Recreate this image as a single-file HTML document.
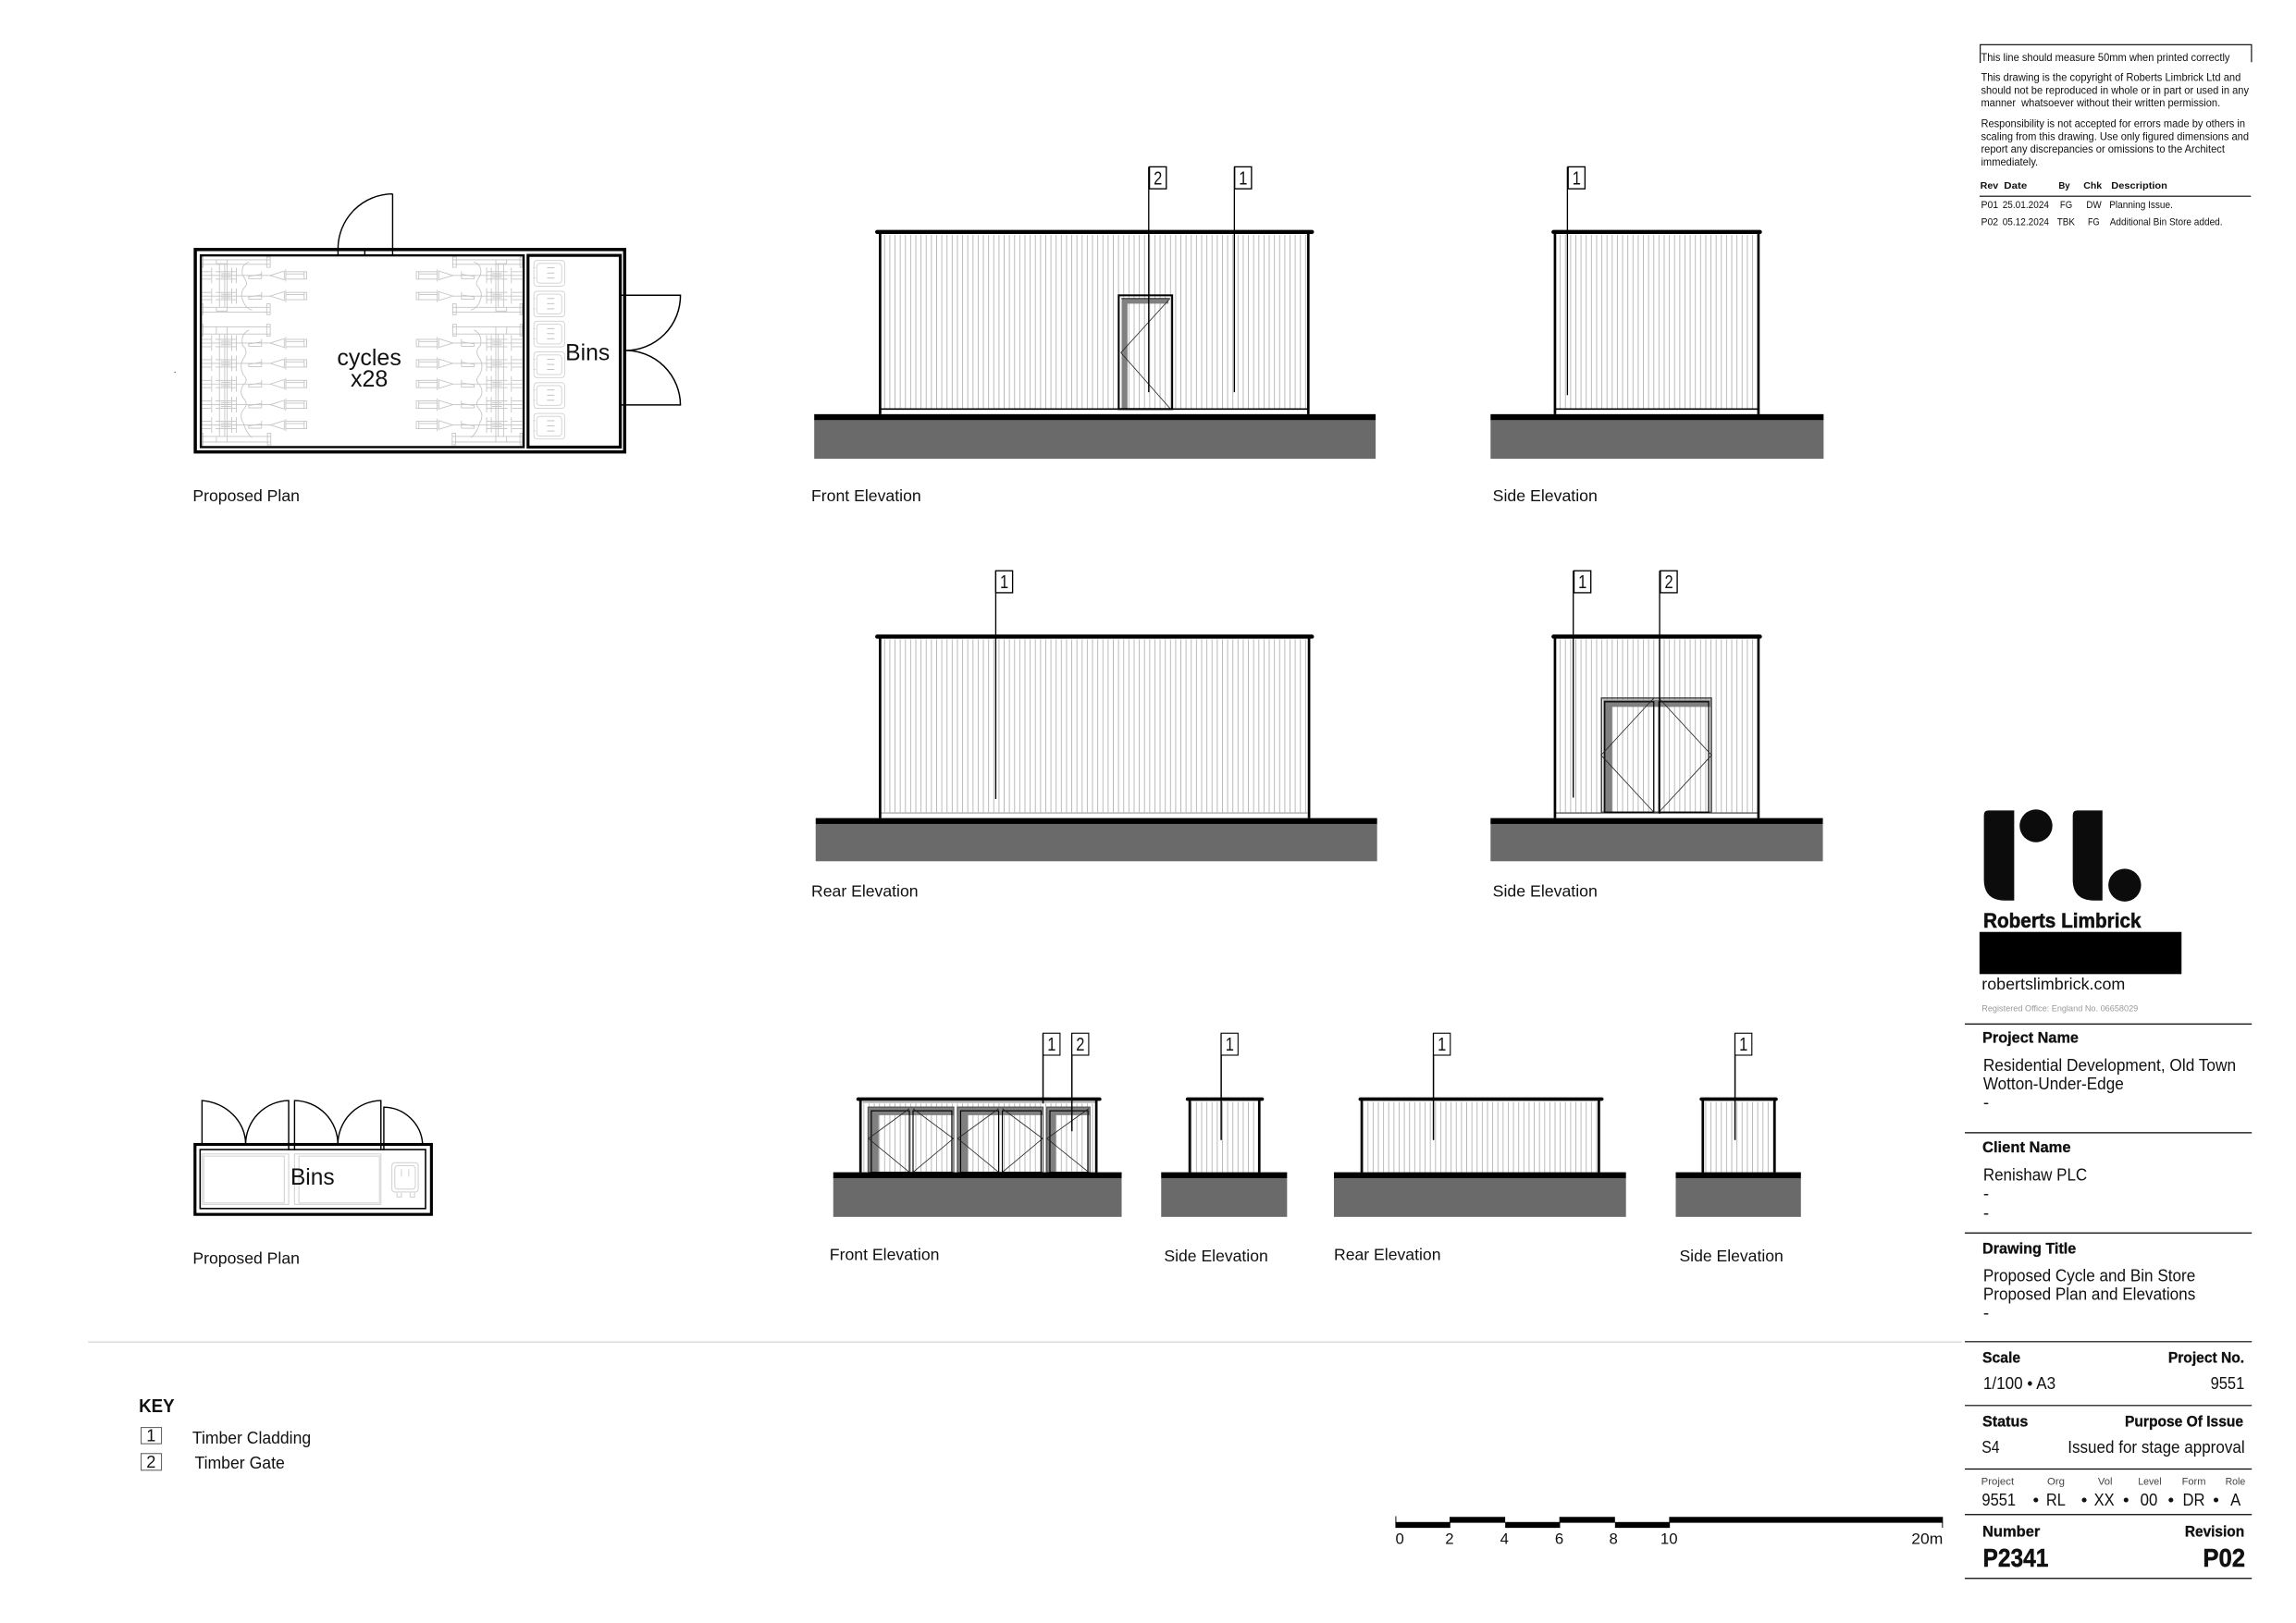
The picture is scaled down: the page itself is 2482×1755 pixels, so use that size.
<!DOCTYPE html>
<html><head><meta charset="utf-8"><title>Proposed Cycle and Bin Store</title>
<style>
html,body{margin:0;padding:0;background:#fff}
svg{display:block}
text{font-family:"Liberation Sans",Arial,sans-serif;fill:#111}
.l{font-size:11.1px}
.b{font-weight:bold}
.s{font-size:7.5px}
.t{font-size:11.9px}
.h{font-size:10.3px;font-weight:bold;stroke:#111;stroke-width:.2px}
.m{font-size:6.8px;fill:#444}
.d{font-size:12.6px;text-anchor:middle}
</style></head><body>
<svg xmlns="http://www.w3.org/2000/svg" width="2482" height="1755" viewBox="0 0 1568 1109">
<defs>
<pattern id="h" patternUnits="userSpaceOnUse" width="3.55" height="10"><line x1=".6" y1="0" x2=".6" y2="10" stroke="#b8b8b8" stroke-width=".62"/></pattern>
<g id="bike" fill="none" stroke="#c4c4c4" stroke-width=".55">
<path d="M137 0H184.4M137 -2.5H144M137 2.5H144M147 -2.5H161M147 2.5H161"/>
<path d="M144.4 -5.3V5.3M158.1 -5.3V5.3M161.3 -5.3V5.3"/>
<path d="M169.7 2.5V0.6L178.5 -0.8M178.5 -2.8V2.2M169.7 2.2H178.5"/>
<path d="M184.4 0L194 -3V3ZM195 -4.2V4.2M195 -2.5H209.3V2.5H195M207.6 -2.5V2.5M195 -1H207.6"/>
<path d="M150.8 -1.2H157.5M150.8 0H157.5M150.8 1.2H157.5"/>
</g>
<g id="rack" fill="none" stroke="#c4c4c4" stroke-width=".55">
<path d="M137 177.5H184.4M137 180.6H184.4M138.5 175.6V182.7H137V175.6ZM182 175.6V182.7H184.4V175.6ZM147.6 177.5V180.2H155V177.5"/>
<path d="M149.7 180.2V209.7M153.3 180.2V209.7M155 180.2V209.7"/>
<path d="M137 210H184.4M137 213.3H184.4M138.5 207.6V215H137V207.6ZM182 207.6V215H184.4V207.6ZM147.6 209.7V212.5H155V209.7"/>
<path d="M170 179Q164 181 165.5 188Q169 193 168 195Q163 200 166 206Q168 211 172 211.8"/>
<path d="M137 223.4H184.4M137 228.2H184.4M138.5 221.6V229.6H137V221.6ZM182 221.6V229.6H184.4V221.6ZM147.6 223.4V228.2H155V223.4"/>
<path d="M149.7 228.2V298.2M153.3 228.2V298.2M155 228.2V298.2"/>
<path d="M137 298.2H184.4M137 302H184.4M138.5 296V304H137V296ZM182.5 296V304H184.8V296ZM147.6 298.2V302H155V298.2"/>
<path d="M170 225.5Q164 228 165.5 236Q170 240 166 245Q163 250 166 256Q170 260 166 263Q163 268 166 272Q170 276 166 280Q163 284 166 289Q168 296 172 299"/>
<use href="#bike" y="188.2"/><use href="#bike" y="202.3"/>
<use href="#bike" y="234.4"/><use href="#bike" y="248.3"/><use href="#bike" y="262.4"/><use href="#bike" y="276.5"/><use href="#bike" y="290.4"/>
</g>
<g id="bin" fill="none" stroke="#cfcfcf" stroke-width=".55">
<rect x="0" y="0" width="21" height="17.5" rx="2"/><rect x="2" y="2" width="17" height="13.5" rx="2"/>
<path d="M9 5H14M9 8.5H14M9 12H14" stroke="#bbb"/><path d="M-.5 5H1M-.5 12H1"/>
</g>
</defs>
<rect width="1568" height="1109" fill="#fff"/>

<!-- Top plan -->
<rect x="119" y="254" width=".7" height=".7" fill="#333"/>
<path d="M268 132.5V170M268 132.5A37.5 37.5 0 0 0 230.7 170" fill="none" stroke="#000" stroke-width=".9"/>
<use href="#rack"/>
<use href="#rack" transform="translate(493.5,0) scale(-1,1)"/>
<use href="#bin" x="364.5" y="178"/><use href="#bin" x="364.5" y="199"/><use href="#bin" x="364.5" y="219.5"/><use href="#bin" x="364.5" y="240.5"/><use href="#bin" x="364.5" y="261.5"/><use href="#bin" x="364.5" y="282.5"/>
<rect x="133.2" y="170.5" width="293.3" height="138.3" fill="none" stroke="#000" stroke-width="2.2"/>
<rect x="137" y="174.5" width="220.5" height="131" fill="none" stroke="#000" stroke-width="1.5"/>
<rect x="360.5" y="174.5" width="63" height="131" fill="none" stroke="#000" stroke-width="2"/>
<path d="M230.7 170V174M249 170V174M268 170V174" stroke="#000" stroke-width=".9"/>
<path d="M424 201.7H464.6A37.5 37.5 0 0 1 427 239.5A37.5 37.5 0 0 1 464.6 276.7H424" fill="none" stroke="#000" stroke-width=".95"/>
<text x="252" y="249.5" font-size="15.8" text-anchor="middle">cycles</text>
<text x="252" y="264" font-size="15.8" text-anchor="middle">x28</text>
<text x="386" y="246" font-size="15.6">Bins</text>
<text class="l" x="131.5" y="342.5" textLength="73" lengthAdjust="spacingAndGlyphs">Proposed Plan</text>

<!-- Front Elevation -->
<rect x="601" y="160.5" width="293" height="118.5" fill="url(#h)"/>
<path d="M601 279.5H893" stroke="#000" stroke-width="1.1"/>
<path d="M601 159V283M893.5 159V283" stroke="#000" stroke-width="1.7"/>
<path d="M599 158.5H896" stroke="#000" stroke-width="2.8" stroke-linecap="round"/>
<rect x="556" y="283" width="383.5" height="4.2" fill="#000"/>
<rect x="556" y="287" width="383.5" height="26.5" fill="#6a6a6a"/>
<path d="M766 204H798V207.5H770V279H766Z" fill="#808080"/>
<rect x="764" y="201.8" width="36.5" height="77.7" fill="none" stroke="#000" stroke-width="1.3"/>
<path d="M765.8 204H799" stroke="#000" stroke-width=".6"/>
<path d="M799 204L765.5 241L799 279" fill="none" stroke="#222" stroke-width=".5"/>
<path d="M784.5 114V268M843 114V268" stroke="#000" stroke-width=".85"/>
<rect x="785" y="114" width="11.5" height="15" fill="#fff" stroke="#000" stroke-width=".85"/>
<rect x="843.2" y="114" width="11.5" height="15" fill="#fff" stroke="#000" stroke-width=".85"/>
<text class="d" x="790.8" y="126" textLength="5.8" lengthAdjust="spacingAndGlyphs">2</text>
<text class="d" x="849" y="126" textLength="5.8" lengthAdjust="spacingAndGlyphs">1</text>
<text class="l" x="554" y="342.5" textLength="75" lengthAdjust="spacingAndGlyphs">Front Elevation</text>

<!-- Side Elevation 1 -->
<rect x="1062" y="160.5" width="139" height="118.5" fill="url(#h)"/>
<path d="M1062 279.5H1201" stroke="#000" stroke-width="1"/>
<path d="M1062 159V283M1201 159V283" stroke="#000" stroke-width="1.7"/>
<path d="M1061 158.5H1202" stroke="#000" stroke-width="2.8" stroke-linecap="round"/>
<rect x="1018" y="283" width="227.5" height="4.2" fill="#000"/>
<rect x="1018" y="287" width="227.5" height="26.5" fill="#6a6a6a"/>
<path d="M1070.5 114V270" stroke="#000" stroke-width=".85"/>
<rect x="1071" y="114" width="11.5" height="15" fill="#fff" stroke="#000" stroke-width=".85"/>
<text class="d" x="1076.8" y="126" textLength="5.8" lengthAdjust="spacingAndGlyphs">1</text>
<text class="l" x="1019.5" y="342.5" textLength="71.5" lengthAdjust="spacingAndGlyphs">Side Elevation</text>

<!-- Rear Elevation -->
<rect x="601" y="437" width="293" height="118" fill="url(#h)"/>
<path d="M601 555.5H893" stroke="#999" stroke-width=".7"/>
<path d="M601 436V559M894 436V559" stroke="#000" stroke-width="1.7"/>
<path d="M599 435H896" stroke="#000" stroke-width="2.8" stroke-linecap="round"/>
<rect x="557" y="559" width="383.5" height="4.2" fill="#000"/>
<rect x="557" y="563" width="383.5" height="25.5" fill="#6a6a6a"/>
<path d="M680 390V546" stroke="#000" stroke-width=".85"/>
<rect x="680" y="390" width="11.5" height="15" fill="#fff" stroke="#000" stroke-width=".85"/>
<text class="d" x="685.8" y="402" textLength="5.8" lengthAdjust="spacingAndGlyphs">1</text>
<text class="l" x="554" y="612.5" textLength="73" lengthAdjust="spacingAndGlyphs">Rear Elevation</text>

<!-- Side Elevation 2 -->
<rect x="1062" y="437" width="139" height="118" fill="url(#h)"/>
<path d="M1062 555.5H1201" stroke="#333" stroke-width=".7"/>
<path d="M1095 478H1168V483H1101V555H1095Z" fill="#808080"/>
<rect x="1093.8" y="477" width="75" height="78" fill="none" stroke="#444" stroke-width="1"/>
<rect x="1096" y="479.5" width="33.5" height="75.5" fill="none" stroke="#000" stroke-width=".8"/>
<rect x="1133" y="479.5" width="34" height="75.5" fill="none" stroke="#000" stroke-width=".8"/>
<path d="M1129.5 477L1093.5 516L1129.5 555M1133 477L1169 516L1133 555" fill="none" stroke="#222" stroke-width=".5"/>
<path d="M1062 436V559M1201 436V559" stroke="#000" stroke-width="1.7"/>
<path d="M1061 435H1202" stroke="#000" stroke-width="2.8" stroke-linecap="round"/>
<rect x="1018" y="559" width="227" height="4.2" fill="#000"/>
<rect x="1018" y="563" width="227" height="25.5" fill="#6a6a6a"/>
<path d="M1074.5 390V545M1133.5 390V556" stroke="#000" stroke-width=".85"/>
<rect x="1075" y="390" width="11.5" height="15" fill="#fff" stroke="#000" stroke-width=".85"/>
<rect x="1134" y="390" width="11.5" height="15" fill="#fff" stroke="#000" stroke-width=".85"/>
<text class="d" x="1080.8" y="402" textLength="5.8" lengthAdjust="spacingAndGlyphs">1</text>
<text class="d" x="1139.8" y="402" textLength="5.8" lengthAdjust="spacingAndGlyphs">2</text>
<text class="l" x="1019.5" y="612.5" textLength="71.5" lengthAdjust="spacingAndGlyphs">Side Elevation</text>

<!-- Small plan -->
<path d="M137.8 782V752A33 30 0 0 1 167.6 782A30 30 0 0 1 197 752V782M201 782V752A30 30 0 0 1 230.6 782A30 30 0 0 1 260 752V782M262 782V756.5A27 27 0 0 1 288.5 782" fill="none" stroke="#000" stroke-width=".9"/>
<g fill="none" stroke="#d4d4d4" stroke-width=".7">
<rect x="138" y="788.5" width="59" height="34.5"/><rect x="139" y="790" width="55" height="32"/>
<rect x="201" y="788.5" width="59" height="34.5"/><rect x="204" y="790" width="55" height="32"/>
<rect x="267.5" y="794.5" width="18" height="20" rx="2"/><rect x="269.5" y="796.5" width="14" height="16" rx="2"/>
<path d="M274 799V804M279 799V804M271 815V818H274V815M280 815V818H283V815"/>
</g>
<rect x="133" y="782" width="161.5" height="47.8" fill="none" stroke="#000" stroke-width="2"/>
<rect x="136.5" y="785.5" width="154" height="40.3" fill="none" stroke="#000" stroke-width="1"/>
<path d="M197 782V786M201 782V786M260 782V786M262 782V786" stroke="#000" stroke-width=".9"/>
<text x="198.2" y="809.5" font-size="15.5">Bins</text>
<text class="l" x="131.5" y="863.5" textLength="73" lengthAdjust="spacingAndGlyphs">Proposed Plan</text>

<!-- Bottom Front Elevation -->
<rect x="588" y="754" width="161" height="47" fill="url(#h)"/>
<path d="M589 753.2H748" stroke="#333" stroke-width=".45"/>
<g fill="#808080">
<path d="M593 756.5H651V762H600V801H593Z"/>
<path d="M654 756.5H712V762H661V801H654Z"/>
<path d="M715 756.5H744V762H721V801H715Z"/>
</g>
<g fill="none" stroke="#555" stroke-width=".8">
<rect x="592.8" y="756.5" width="58.5" height="44.5"/>
<rect x="653.8" y="756.5" width="58.5" height="44.5"/>
<rect x="714.8" y="756.5" width="29.5" height="44.5"/>
</g>
<g fill="none" stroke="#000" stroke-width=".75">
<rect x="595" y="759" width="26" height="42"/><rect x="623.5" y="759" width="26.5" height="42"/>
<rect x="656" y="759" width="26" height="42"/><rect x="684.5" y="759" width="26.5" height="42"/>
<rect x="717" y="759" width="26" height="42"/>
</g>
<path d="M621 757.5L593 778L621 801M623.5 757.5L651 778L623.5 801M682 757.5L654 778L682 801M684.5 757.5L712 778L684.5 801M743.5 757.5L715 778L743.5 801" fill="none" stroke="#222" stroke-width=".5"/>
<path d="M587.6 752V801M748.7 752V801" stroke="#000" stroke-width="1.7"/>
<path d="M586 751H751" stroke="#000" stroke-width="2.4" stroke-linecap="round"/>
<rect x="569" y="801" width="197" height="4.2" fill="#000"/>
<rect x="569" y="805" width="197" height="26.5" fill="#6a6a6a"/>
<path d="M712.3 706V754M732 706V773" stroke="#000" stroke-width=".95"/>
<rect x="712.4" y="706" width="11.5" height="15" fill="#fff" stroke="#000" stroke-width=".7"/>
<rect x="732" y="706" width="11.5" height="15" fill="#fff" stroke="#000" stroke-width=".7"/>
<text class="d" x="718.2" y="718" textLength="5.8" lengthAdjust="spacingAndGlyphs">1</text>
<text class="d" x="737.8" y="718" textLength="5.8" lengthAdjust="spacingAndGlyphs">2</text>
<text class="l" x="566.5" y="861" textLength="75" lengthAdjust="spacingAndGlyphs">Front Elevation</text>

<!-- Bottom Side 1 -->
<rect x="812.5" y="753" width="47.5" height="48" fill="url(#h)"/>
<path d="M812.5 752V801M860 752V801" stroke="#000" stroke-width="1.7"/>
<path d="M811 751H862" stroke="#000" stroke-width="2.4" stroke-linecap="round"/>
<rect x="793" y="801" width="86" height="4.2" fill="#000"/>
<rect x="793" y="805" width="86" height="26.5" fill="#6a6a6a"/>
<path d="M834 706V779" stroke="#000" stroke-width=".95"/>
<rect x="834" y="706" width="11.5" height="15" fill="#fff" stroke="#000" stroke-width=".7"/>
<text class="d" x="839.8" y="718" textLength="5.8" lengthAdjust="spacingAndGlyphs">1</text>
<text class="l" x="795" y="862" textLength="71" lengthAdjust="spacingAndGlyphs">Side Elevation</text>

<!-- Bottom Rear -->
<rect x="930" y="753" width="162" height="48" fill="url(#h)"/>
<path d="M930 752V801M1092 752V801" stroke="#000" stroke-width="1.7"/>
<path d="M929 751H1094" stroke="#000" stroke-width="2.4" stroke-linecap="round"/>
<rect x="911" y="801" width="199.5" height="4.2" fill="#000"/>
<rect x="911" y="805" width="199.5" height="26.5" fill="#6a6a6a"/>
<path d="M979 706V779" stroke="#000" stroke-width=".95"/>
<rect x="979" y="706" width="11.5" height="15" fill="#fff" stroke="#000" stroke-width=".7"/>
<text class="d" x="984.8" y="718" textLength="5.8" lengthAdjust="spacingAndGlyphs">1</text>
<text class="l" x="911" y="861" textLength="73" lengthAdjust="spacingAndGlyphs">Rear Elevation</text>

<!-- Bottom Side 2 -->
<rect x="1163" y="753" width="49" height="48" fill="url(#h)"/>
<path d="M1163 752V801M1212 752V801" stroke="#000" stroke-width="1.7"/>
<path d="M1162 751H1213" stroke="#000" stroke-width="2.4" stroke-linecap="round"/>
<rect x="1144.5" y="801" width="85.5" height="4.2" fill="#000"/>
<rect x="1144.5" y="805" width="85.5" height="26.5" fill="#6a6a6a"/>
<path d="M1185 706V779" stroke="#000" stroke-width=".95"/>
<rect x="1185" y="706" width="11.5" height="15" fill="#fff" stroke="#000" stroke-width=".7"/>
<text class="d" x="1190.8" y="718" textLength="5.8" lengthAdjust="spacingAndGlyphs">1</text>
<text class="l" x="1147" y="862" textLength="71" lengthAdjust="spacingAndGlyphs">Side Elevation</text>

<!-- Divider -->
<path d="M60 917H1340" stroke="#d4d4d4" stroke-width=".8"/>

<!-- Key -->
<text x="94.7" y="964.9" font-size="12.6" class="b" textLength="24.3" lengthAdjust="spacingAndGlyphs">KEY</text>
<rect x="96.2" y="975.4" width="13.9" height="11.1" fill="none" stroke="#666" stroke-width=".7"/>
<rect x="96.2" y="993.2" width="13.9" height="11.4" fill="none" stroke="#666" stroke-width=".7"/>
<text x="103" y="984.8" font-size="11.5" text-anchor="middle">1</text>
<text x="103" y="1002.9" font-size="11.5" text-anchor="middle">2</text>
<text x="131.2" y="986.5" font-size="11.4" textLength="81" lengthAdjust="spacingAndGlyphs">Timber Cladding</text>
<text x="132.8" y="1003.4" font-size="11.4" textLength="61.5" lengthAdjust="spacingAndGlyphs">Timber Gate</text>

<!-- Scale bar -->
<g fill="#000">
<rect x="953" y="1040" width="37.5" height="4"/><rect x="1028" y="1040" width="37.5" height="4"/><rect x="1103" y="1040" width="37.5" height="4"/>
<rect x="990" y="1036.5" width="38" height="4"/><rect x="1065" y="1036.5" width="38" height="4"/><rect x="1140" y="1036.5" width="187" height="4"/>
</g>
<path d="M953.3 1036V1041M1326.7 1040V1044" stroke="#000" stroke-width=".6"/>
<g font-size="10.6">
<text x="953" y="1055">0</text><text x="987" y="1055">2</text><text x="1024.5" y="1055">4</text><text x="1062" y="1055">6</text><text x="1099" y="1055">8</text><text x="1134" y="1055">10</text><text x="1305.5" y="1055" textLength="21.5" lengthAdjust="spacingAndGlyphs">20m</text>
</g>

<!-- Disclaimer -->
<path d="M1352.5 43V30.5H1537.8V42.5" fill="none" stroke="#000" stroke-width=".7"/>
<text class="s" x="1353" y="41.7" textLength="170" lengthAdjust="spacingAndGlyphs">This line should measure 50mm when printed correctly</text>
<text class="s" x="1353" y="55.4" textLength="177.5" lengthAdjust="spacingAndGlyphs">This drawing is the copyright of Roberts Limbrick Ltd and</text>
<text class="s" x="1353" y="64" textLength="183" lengthAdjust="spacingAndGlyphs">should not be reproduced in whole or in part or used in any</text>
<text class="s" x="1353" y="72.6" textLength="163.5" lengthAdjust="spacingAndGlyphs" xml:space="preserve">manner  whatsoever without their written permission.</text>
<text class="s" x="1353" y="86.8" textLength="180.5" lengthAdjust="spacingAndGlyphs">Responsibility is not accepted for errors made by others in</text>
<text class="s" x="1353" y="95.6" textLength="183" lengthAdjust="spacingAndGlyphs">scaling from this drawing. Use only figured dimensions and</text>
<text class="s" x="1353" y="104.2" textLength="166.5" lengthAdjust="spacingAndGlyphs">report any discrepancies or omissions to the Architect</text>
<text class="s" x="1353" y="113" textLength="39" lengthAdjust="spacingAndGlyphs">immediately.</text>
<g font-size="6.2">
<text x="1352.5" y="129" textLength="12.4" lengthAdjust="spacingAndGlyphs" font-weight="bold">Rev</text>
<text x="1368.7" y="129" textLength="15.8" lengthAdjust="spacingAndGlyphs" font-weight="bold">Date</text>
<text x="1406" y="129" textLength="7.8" lengthAdjust="spacingAndGlyphs" font-weight="bold">By</text>
<text x="1423" y="129" textLength="12.6" lengthAdjust="spacingAndGlyphs" font-weight="bold">Chk</text>
<text x="1442" y="129" textLength="38.3" lengthAdjust="spacingAndGlyphs" font-weight="bold">Description</text>
</g>
<path d="M1352 134.1H1537.4" stroke="#000" stroke-width=".7"/>
<g font-size="7">
<text x="1353" y="142.3" textLength="11.8" lengthAdjust="spacingAndGlyphs">P01</text>
<text x="1367.7" y="142.3" textLength="31.8" lengthAdjust="spacingAndGlyphs">25.01.2024</text>
<text x="1407" y="142.3" textLength="8.4" lengthAdjust="spacingAndGlyphs">FG</text>
<text x="1425" y="142.3" textLength="10.3" lengthAdjust="spacingAndGlyphs">DW</text>
<text x="1440.7" y="142.3" textLength="43.4" lengthAdjust="spacingAndGlyphs">Planning Issue.</text>
<text x="1353" y="154" textLength="11.8" lengthAdjust="spacingAndGlyphs">P02</text>
<text x="1367.7" y="154" textLength="31.8" lengthAdjust="spacingAndGlyphs">05.12.2024</text>
<text x="1405" y="154" textLength="12.2" lengthAdjust="spacingAndGlyphs">TBK</text>
<text x="1426" y="154" textLength="8" lengthAdjust="spacingAndGlyphs">FG</text>
<text x="1441" y="154" textLength="77" lengthAdjust="spacingAndGlyphs">Additional Bin Store added.</text>
</g>

<!-- Logo -->
<g fill="#0c0c0c">
<path d="M1358 553.8H1375.7V615.3H1369Q1355 615 1355 601V557Q1355 553.8 1358 553.8Z"/>
<circle cx="1390.6" cy="564.3" r="11.2"/>
<path d="M1418.7 553.8H1436V615.3H1430Q1415.7 615 1415.7 601V557Q1415.7 553.8 1418.7 553.8Z"/>
<circle cx="1451.2" cy="604.8" r="11.2"/>
</g>
<text x="1354.6" y="633.8" font-size="14" font-weight="bold" stroke="#111" stroke-width=".35" textLength="107.8" lengthAdjust="spacingAndGlyphs">Roberts Limbrick</text>
<rect x="1352" y="636.8" width="138" height="28.8" fill="#000"/>
<text x="1353.5" y="676" font-size="11.2" textLength="98" lengthAdjust="spacingAndGlyphs">robertslimbrick.com</text>
<text x="1353.5" y="691" font-size="5.6" style="fill:#999" textLength="106.8" lengthAdjust="spacingAndGlyphs">Registered Office: England No. 06658029</text>

<!-- Title block -->
<g stroke="#000" stroke-width=".75">
<path d="M1342 699.7H1538M1342 774H1538M1342 842.5H1538M1342 916.8H1538M1342 960.4H1538M1342 1003.8H1538M1342 1034.9H1538M1342 1078.5H1538"/>
</g>
<text class="h" x="1354" y="712.5" textLength="65.7" lengthAdjust="spacingAndGlyphs">Project Name</text>
<text class="t" x="1354.5" y="731.7" textLength="172.7" lengthAdjust="spacingAndGlyphs">Residential Development, Old Town</text>
<text class="t" x="1354.5" y="744.3" textLength="96" lengthAdjust="spacingAndGlyphs">Wotton-Under-Edge</text>
<text class="t" x="1354.5" y="757">-</text>
<text class="h" x="1354" y="787.5" textLength="60.4" lengthAdjust="spacingAndGlyphs">Client Name</text>
<text class="t" x="1354.5" y="806.5" textLength="71" lengthAdjust="spacingAndGlyphs">Renishaw PLC</text>
<text class="t" x="1354.5" y="819.4">-</text>
<text class="t" x="1354.5" y="832.6">-</text>
<text class="h" x="1354" y="856.4" textLength="64" lengthAdjust="spacingAndGlyphs">Drawing Title</text>
<text class="t" x="1354.5" y="875.4" textLength="145" lengthAdjust="spacingAndGlyphs">Proposed Cycle and Bin Store</text>
<text class="t" x="1354.5" y="888.2" textLength="145" lengthAdjust="spacingAndGlyphs">Proposed Plan and Elevations</text>
<text class="t" x="1354.5" y="900.9">-</text>
<text class="h" x="1354" y="931.2" textLength="26" lengthAdjust="spacingAndGlyphs">Scale</text>
<text class="h" x="1480.9" y="931.2" textLength="52" lengthAdjust="spacingAndGlyphs">Project No.</text>
<text class="t" x="1354.5" y="949" textLength="49.5" lengthAdjust="spacingAndGlyphs">1/100 • A3</text>
<text class="t" x="1509.8" y="949" textLength="23.2" lengthAdjust="spacingAndGlyphs">9551</text>
<text class="h" x="1354" y="974.8" textLength="31.2" lengthAdjust="spacingAndGlyphs">Status</text>
<text class="h" x="1451.3" y="974.8" textLength="80.9" lengthAdjust="spacingAndGlyphs">Purpose Of Issue</text>
<text class="t" x="1353.5" y="992.7" textLength="12.2" lengthAdjust="spacingAndGlyphs">S4</text>
<text class="t" x="1412.3" y="992.7" textLength="120.9" lengthAdjust="spacingAndGlyphs">Issued for stage approval</text>
<text class="m" x="1353.1" y="1014.5" textLength="22.5" lengthAdjust="spacingAndGlyphs">Project</text>
<text class="m" x="1398.2" y="1014.5" textLength="12" lengthAdjust="spacingAndGlyphs">Org</text>
<text class="m" x="1432.9" y="1014.5" textLength="9.9" lengthAdjust="spacingAndGlyphs">Vol</text>
<text class="m" x="1460.3" y="1014.5" textLength="16" lengthAdjust="spacingAndGlyphs">Level</text>
<text class="m" x="1490.2" y="1014.5" textLength="16.4" lengthAdjust="spacingAndGlyphs">Form</text>
<text class="m" x="1519.9" y="1014.5" textLength="13.7" lengthAdjust="spacingAndGlyphs">Role</text>
<text class="t" x="1353.6" y="1028.6" textLength="23.2" lengthAdjust="spacingAndGlyphs">9551</text>
<text class="t" x="1390.5" y="1028.6" text-anchor="middle">•</text>
<text class="t" x="1397.5" y="1028.6" textLength="13.3" lengthAdjust="spacingAndGlyphs">RL</text>
<text class="t" x="1423.5" y="1028.6" text-anchor="middle">•</text>
<text class="t" x="1430.2" y="1028.6" textLength="13.9" lengthAdjust="spacingAndGlyphs">XX</text>
<text class="t" x="1452.1" y="1028.6" text-anchor="middle">•</text>
<text class="t" x="1461.8" y="1028.6" textLength="11.8" lengthAdjust="spacingAndGlyphs">00</text>
<text class="t" x="1482.8" y="1028.6" text-anchor="middle">•</text>
<text class="t" x="1490.8" y="1028.6" textLength="15.2" lengthAdjust="spacingAndGlyphs">DR</text>
<text class="t" x="1513.6" y="1028.6" text-anchor="middle">•</text>
<text class="t" x="1523.4" y="1028.6" textLength="7" lengthAdjust="spacingAndGlyphs">A</text>
<text class="h" x="1354" y="1050" textLength="39.4" lengthAdjust="spacingAndGlyphs">Number</text>
<text class="h" x="1492.3" y="1050" textLength="40.6" lengthAdjust="spacingAndGlyphs">Revision</text>
<text x="1354.3" y="1070.3" font-size="17.6" font-weight="bold" stroke="#111" stroke-width=".3" textLength="44.8" lengthAdjust="spacingAndGlyphs">P2341</text>
<text x="1504.6" y="1070.3" font-size="17.6" font-weight="bold" stroke="#111" stroke-width=".3" textLength="28.9" lengthAdjust="spacingAndGlyphs">P02</text>
</svg>
</body></html>
